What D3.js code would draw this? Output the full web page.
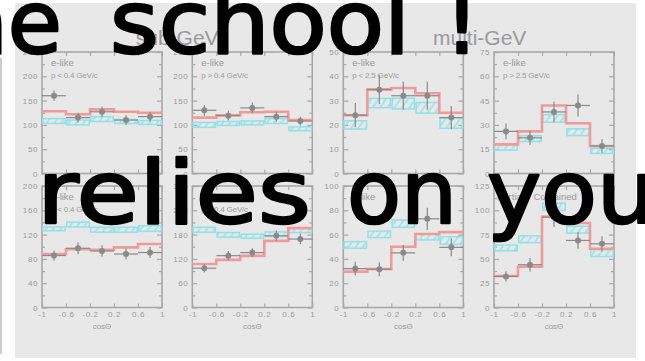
<!DOCTYPE html>
<html>
<head>
<meta charset="utf-8">
<script src="https://cdn.jsdelivr.net/npm/d3@7"></script>
<style>
  html, body { margin: 0; padding: 0; background: #ffffff; }
  svg { display: block; }
</style>
</head>
<body>
<svg id="chart" width="645" height="361"></svg>
<script>
// Zenith-angle distributions: 5 bins in cos(theta) per sample
const binEdges = [-1, -0.6, -0.2, 0.2, 0.6, 1];
const xTicks = [-1, -0.6, -0.2, 0.2, 0.6, 1];
const xTickLabels = ["-1", "-0.6", "-0.2", "0.2", "0.6", "1"];

const groupTitles = ["sub-GeV", "multi-GeV"];

// One entry per panel: top row (e-like), bottom row (mu-like / PC)
const panelLabels = [
  ["e-like", "p < 0.4 GeV/c"],
  ["e-like", "p > 0.4 GeV/c"],
  ["e-like", "p < 2.5 GeV/c"],
  ["e-like", "p > 2.5 GeV/c"],
  ["\u03bc-like", "p < 0.4 GeV/c"],
  ["\u03bc-like", "p > 0.4 GeV/c"],
  ["\u03bc-like"],
  ["Partially Contained"]
];
const yMax  = [250, 250, 50, 75, 200, 300, 100, 125];
const yStep = [50, 50, 10, 15, 40, 60, 20, 25];

// Observed events
const dataVals = [
  [160, 115, 127, 110, 117],
  [130, 119, 135, 117, 108],
  [24, 34.5, 32, 32, 23],
  [26, 22, 38, 42, 17],
  [85.5, 97.5, 93, 88, 90.5],
  [97, 128, 135.5, 177, 169],
  [32, 31.5, 45, 73, 49.5],
  [32, 44, 93, 69, 65.5]
];
const dataErr = [
  [11, 10, 11, 10, 10],
  [11, 10, 11, 10, 9],
  [5, 6, 5.8, 5.8, 4.8],
  [4.9, 4.4, 6.4, 6.8, 4.2],
  [8.5, 10, 9.5, 9, 9],
  [10.7, 11.6, 11, 13, 13],
  [5.6, 5.8, 6.5, 9.2, 7.3],
  [5.2, 6.9, 10.3, 8.6, 7.9]
];
// Best-fit oscillation expectation
const fitVals = [
  [128, 122, 132, 127, 125],
  [115, 120, 126, 127, 110],
  [24, 34.6, 35.2, 33, 25],
  [18, 26, 42, 31, 17],
  [88, 96, 95, 99, 104.5],
  [107.5, 117.5, 127.5, 164.5, 196],
  [29.5, 31.7, 50, 60.5, 62],
  [32.4, 42, 93.5, 87, 60.5]
];
// No-oscillation expectation (centre and half-height of the hatched box)
const noOscVals = [
  [108, 105, 112, 107, 105],
  [100, 103, 104, 108, 92],
  [20, 29, 28.8, 27, 20.7],
  [16, 21.5, 34, 25.5, 14],
  [129.5, 136.5, 128, 128, 130],
  [192, 179.5, 176, 181, 191],
  [51.5, 60.2, 69, 58, 55.2],
  [61.3, 70.2, 103.7, 80, 56]
];
const noOscErr = [
  [5, 5, 5, 4, 4],
  [5, 4, 4, 5, 4],
  [1.7, 1.9, 2.2, 2.2, 2.1],
  [1.6, 1.8, 2.3, 2.1, 1.6],
  [3, 4, 4, 4, 4.7],
  [6, 5.6, 5, 5.8, 6],
  [2.7, 2.7, 3, 2.4, 3.1],
  [3, 3.5, 3.7, 3.5, 3.5]
];

// Overlaid slide text, one entry per word
const slideWords = [
  {text: "the", line: 0},
  {text: "school", line: 0},
  {text: "!", line: 0},
  {text: "relies", line: 1},
  {text: "on", line: 1},
  {text: "you", line: 1}
];

// ---------------- layout ----------------
const svg = d3.select("#chart");
const colLeft = [42, 192.3, 343.3, 494];
const rowTop = [52, 186];
const pw = 120, ph = 121.5;
const axisGrey = "#a8a8a8";
const textGrey = "#9a9a9a";
const redCol = "#f19a9a";
const cyanCol = "#8fe2e8";
const ptCol = "#8a8a8a";

svg.append("rect").attr("x", 15).attr("y", 3).attr("width", 621).attr("height", 355)
  .attr("fill", "#e8e8e8");
svg.append("line").attr("x1", 1).attr("x2", 1).attr("y1", 58).attr("y2", 354)
  .attr("stroke", "#bdbdbd").attr("stroke-width", 1.5);

const defs = svg.append("defs");
defs.append("pattern").attr("id", "hatch").attr("patternUnits", "userSpaceOnUse")
  .attr("width", 6).attr("height", 6).attr("patternTransform", "rotate(35)")
  .append("line").attr("x1", 1).attr("x2", 1).attr("y1", 0).attr("y2", 6)
  .attr("stroke", cyanCol).attr("stroke-width", 1.4);

// group titles
groupTitles.forEach((t, i) => {
  const cx = i === 0 ? (colLeft[0] + colLeft[1] + pw) / 2 : (colLeft[2] + colLeft[3] + pw) / 2 + 1;
  svg.append("text").attr("x", cx).attr("y", 45).attr("text-anchor", "middle")
    .attr("font-family", "Liberation Sans, Arial, sans-serif").attr("font-size", 21)
    .attr("fill", textGrey).text(t);
});

function styleAxis(g) {
  g.select(".domain").remove();
  g.selectAll(".tick line").attr("stroke", axisGrey).attr("stroke-width", 1.2);
  g.selectAll(".tick text").attr("fill", textGrey)
    .attr("font-family", "Liberation Sans, Arial, sans-serif")
    .attr("font-size", 8).attr("letter-spacing", 0.6);
}

for (let p = 0; p < 8; p++) {
  const col = p % 4, row = Math.floor(p / 4);
  const x0 = colLeft[col], y0 = rowTop[row];
  const x = d3.scaleLinear().domain([-1, 1]).range([x0, x0 + pw]);
  const y = d3.scaleLinear().domain([0, yMax[p]]).range([y0 + ph, y0]);
  const g = svg.append("g");

  const majors = d3.range(0, yMax[p] + 1e-9, yStep[p]);
  const minors = d3.range(yStep[p] / 2, yMax[p], yStep[p]);

  // minor y ticks (left and right)
  g.append("g").attr("transform", `translate(${x0},0)`)
    .call(d3.axisLeft(y).tickValues(minors).tickSize(-3).tickFormat(""))
    .call(styleAxis);
  g.append("g").attr("transform", `translate(${x0 + pw},0)`)
    .call(d3.axisRight(y).tickValues(minors).tickSize(-3).tickFormat(""))
    .call(styleAxis);
  // major y ticks with labels
  g.append("g").attr("transform", `translate(${x0},0)`)
    .call(d3.axisLeft(y).tickValues(majors).tickSize(-5).tickPadding(4).tickFormat(d3.format("d")))
    .call(styleAxis);
  g.append("g").attr("transform", `translate(${x0 + pw},0)`)
    .call(d3.axisRight(y).tickValues(majors).tickSize(-5).tickFormat(""))
    .call(styleAxis);
  // x ticks top and bottom
  const xb = g.append("g").attr("transform", `translate(0,${y0 + ph})`)
    .call(d3.axisBottom(x).tickValues(xTicks).tickSize(-4)
      .tickFormat((d, i) => row === 1 ? xTickLabels[i] : ""))
    .call(styleAxis);
  xb.selectAll(".tick text").attr("dy", 0).attr("y", 9);
  g.append("g").attr("transform", `translate(0,${y0})`)
    .call(d3.axisTop(x).tickValues(xTicks).tickSize(-4).tickFormat(""))
    .call(styleAxis);

  // frame
  g.append("rect").attr("x", x0).attr("y", y0).attr("width", pw).attr("height", ph)
    .attr("fill", "none").attr("stroke", axisGrey).attr("stroke-width", 1.6);

  if (row === 1) {
    g.append("text").attr("x", x0 + pw / 2).attr("y", y0 + ph + 21)
      .attr("text-anchor", "middle").attr("fill", textGrey)
      .attr("font-family", "Liberation Sans, Arial, sans-serif").attr("font-size", 8)
      .text("cos\u0398");
  }

  // sample labels
  panelLabels[p].forEach((s, k) => {
    g.append("text").attr("x", x0 + (s.length > 12 && k === 0 ? 3 : 9))
      .attr("y", y0 + 14 + k * 12).attr("fill", textGrey)
      .attr("font-family", "Liberation Sans, Arial, sans-serif")
      .attr("font-size", k === 0 ? 9.5 : 8).attr("letter-spacing", k === 0 ? 0 : -0.2)
      .text(s);
  });

  const bins = d3.range(5).map(i => ({
    lo: binEdges[i], hi: binEdges[i + 1], mid: (binEdges[i] + binEdges[i + 1]) / 2,
    data: dataVals[p][i], err: dataErr[p][i], fit: fitVals[p][i],
    no: noOscVals[p][i], noErr: noOscErr[p][i]
  }));

  // no-oscillation hatched boxes
  g.selectAll(".box").data(bins).join("rect")
    .attr("x", d => x(d.lo) + 0.8).attr("width", d => x(d.hi) - x(d.lo) - 1.6)
    .attr("y", d => y(d.no + d.noErr)).attr("height", d => y(d.no - d.noErr) - y(d.no + d.noErr))
    .attr("fill", "url(#hatch)").attr("stroke", cyanCol).attr("stroke-width", 1.5);

  // best-fit step line
  const stepPts = bins.map(d => [d.lo, d.fit]).concat([[1, bins[4].fit]]);
  g.append("path")
    .attr("d", d3.line().x(d => x(d[0])).y(d => y(d[1])).curve(d3.curveStepAfter)(stepPts))
    .attr("fill", "none").attr("stroke", redCol).attr("stroke-width", 2.6);

  // data with error bars
  const pts = g.selectAll(".pt").data(bins).join("g");
  pts.append("line").attr("x1", d => x(d.lo)).attr("x2", d => x(d.hi))
    .attr("y1", d => y(d.data)).attr("y2", d => y(d.data))
    .attr("stroke", ptCol).attr("stroke-width", 1.2);
  pts.append("line").attr("x1", d => x(d.mid)).attr("x2", d => x(d.mid))
    .attr("y1", d => y(d.data - d.err)).attr("y2", d => y(d.data + d.err))
    .attr("stroke", ptCol).attr("stroke-width", 1.2);
  pts.append("circle").attr("cx", d => x(d.mid)).attr("cy", d => y(d.data)).attr("r", 3)
    .attr("fill", ptCol);
}

// ---------------- slide text on top ----------------
const wordPlace = {
  "the":    {x: 62, anchor: "end"},
  "school": {x: 110, len: 300},
  "!":      {x: 462, anchor: "middle"},
  "relies": {x: 37, len: 274},
  "on":     {x: 347, len: 110},
  "you":    {x: 487, len: 168}
};
const lineBase = [53, 223];
slideWords.forEach(w => {
  const pl = wordPlace[w.text];
  const t = svg.append("text").attr("x", pl.x).attr("y", lineBase[w.line])
    .attr("font-family", "DejaVu Sans, sans-serif").attr("font-size", 88)
    .attr("fill", "#000").attr("stroke", "#000").attr("stroke-width", 2.5)
    .attr("stroke-linejoin", "round")
    .attr("text-anchor", pl.anchor || "start")
    .text(w.text);
  if (pl.len) t.attr("textLength", pl.len).attr("lengthAdjust", "spacingAndGlyphs");
});
</script>
</body>
</html>
